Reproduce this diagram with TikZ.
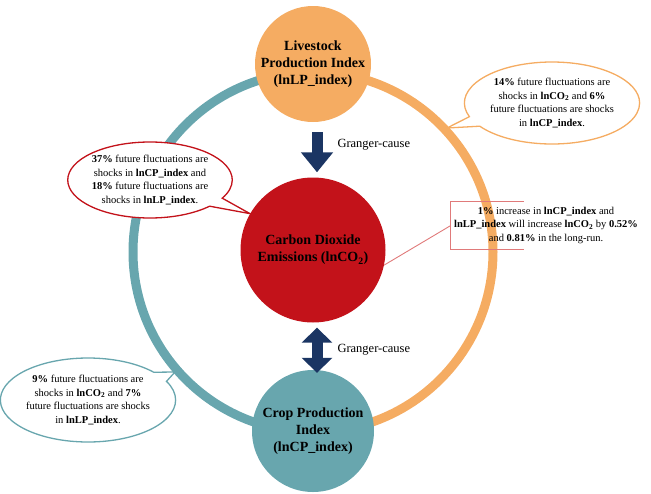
\documentclass[tikz,border=0pt]{standalone}
\usepackage{fontspec}
\setmainfont{Liberation Serif}
\usetikzlibrary{shapes.callouts,arrows.meta}

\definecolor{lporange}{HTML}{F5AC62}
\definecolor{cpteal}{HTML}{68A6AE}
\definecolor{cored}{HTML}{C3121A}
\definecolor{arrownavy}{HTML}{1B3563}
\definecolor{boxred}{HTML}{E07A7A}

\begin{document}
\begin{tikzpicture}[x=1pt, y=-1pt,
  every hub/.style={circle, inner sep=0pt, align=center,
    font=\fontsize{14}{17}\selectfont\bfseries},
  every note/.style={ellipse callout, fill=white, line width=1.3pt,
    inner sep=0pt, align=center, font=\fontsize{10.5}{13.5}\selectfont},
  ring line/.style={line width=9pt},
  block arrow/.style={arrownavy, line width=11pt},
  granger/.style={inner sep=0pt, text=black, font=\fontsize{12.5}{15}\selectfont},
  box line/.style={boxred, line width=0.9pt}]
\useasboundingbox (0,0) rectangle (651,493);

% Draw the ring
\coordinate (ring-c) at (313,252);
\draw [ring line, cpteal] (ring-c) ++(0,-180) arc [start angle=90, end angle=270, radius=180pt];
\draw [ring line, lporange] (ring-c) ++(0,-180) arc [start angle=90, end angle=-90, radius=180pt];

% Draw variable nodes
\node [every hub, fill=lporange, minimum size=116pt] (livestock) at (313,64)
  {Livestock\\Production Index\\(lnLP\_index)};
\node [every hub, fill=cored, minimum size=145pt] (co2) at (313,250)
  {Carbon Dioxide\\Emissions (lnCO\textsubscript{2})};
\node [every hub, fill=cpteal, minimum size=122pt] (crop) at (313,431)
  {Crop Production\\Index\\(lnCP\_index)};

% Granger-cause arrows
\draw [block arrow, -{Triangle[width=31pt, length=20pt]}, shorten <=10pt, shorten >=5pt]
  ([xshift=4pt]livestock.south) -- ([xshift=4pt]co2.north)
  node [granger, pos=0.41, anchor=west, xshift=15pt] {Granger-cause};
\draw [block arrow, {Triangle[width=30pt, length=15pt]}-{Triangle[width=30pt, length=15pt]},
  shorten <=5pt, shorten >=-3pt]
  ([xshift=4pt]co2.south) -- ([xshift=4pt]crop.north)
  node [granger, pos=0.58, anchor=west, xshift=15pt] {Granger-cause};

% Callouts
\coordinate (tip-lp) at (447,128);
\coordinate (tip-cp) at (175,372);
\node [every note, draw=lporange, minimum width=162pt, minimum height=82pt,
  callout absolute pointer=(tip-lp)] (note-lp) at (552,103)
  {\textbf{14\%} future fluctuations are\\ shocks in \textbf{lnCO\textsubscript{2}} and \textbf{6\%}\\
   future fluctuations are shocks\\ in \textbf{lnCP\_index}.};
\node [every note, draw=cored, minimum width=158pt, minimum height=76pt,
  callout absolute pointer=(co2.150)] (note-co2) at (150,180)
  {\textbf{37\%} future fluctuations are\\ shocks in \textbf{lnCP\_index} and\\
   \textbf{18\%} future fluctuations are\\ shocks in \textbf{lnLP\_index}.};
\node [every note, draw=cpteal, minimum width=168pt, minimum height=84pt,
  callout absolute pointer=(tip-cp)] (note-cp) at (88,400)
  {\textbf{9\%} future fluctuations are\\ shocks in \textbf{lnCO\textsubscript{2}} and \textbf{7\%}\\
   future fluctuations are shocks\\ in \textbf{lnLP\_index}.};

% Long-run box
\node [minimum width=73pt, minimum height=47pt, inner sep=0pt] (box) at (487.5,225.5) {};
\draw [box line] (box.north east) -- (box.north west) -- (box.south west) -- (box.south east);
\draw [box line] (box.west) -- (co2.-12);
\node [inner sep=0pt, align=center, font=\fontsize{10.5}{13.5}\selectfont] (longrun) at (546,225)
  {\textbf{1\%} increase in \textbf{lnCP\_index} and\\
   \textbf{lnLP\_index} will increase \textbf{lnCO\textsubscript{2}} by \textbf{0.52\%}\\
   and \textbf{0.81\%} in the long-run.};
\end{tikzpicture}
\end{document}
